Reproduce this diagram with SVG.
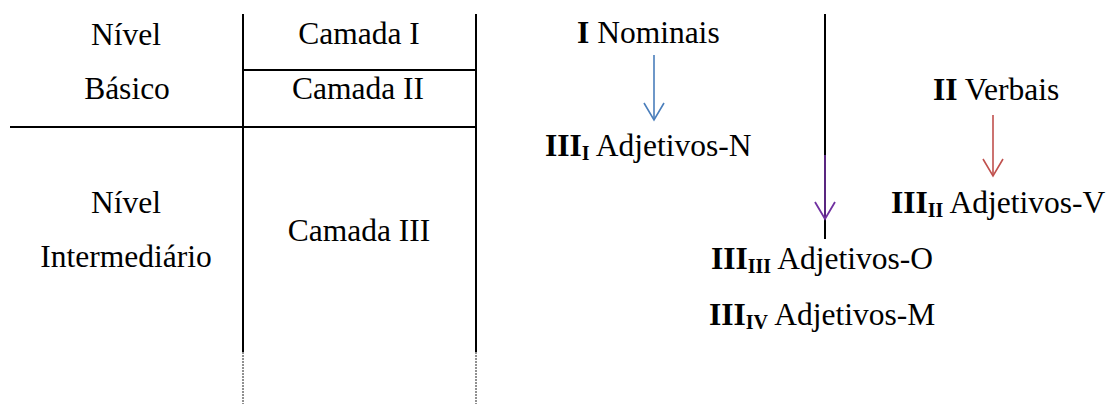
<svg xmlns="http://www.w3.org/2000/svg" width="1108" height="404" viewBox="0 0 1108 404">
<style>
text{font-family:"Liberation Serif","Times New Roman",serif;font-size:31.5px;fill:#000}
.c{text-anchor:middle}
.b{font-weight:bold}
.sub{font-weight:bold;font-size:20px}
.rule{stroke:#000;stroke-width:2;fill:none}
.dash{stroke:#222;stroke-width:1;stroke-dasharray:2 1;fill:none}
.arr{fill:none;stroke-width:1.6}
</style>
<defs>
<marker id="hb" markerUnits="userSpaceOnUse" markerWidth="22" markerHeight="24" refX="19" refY="11" orient="auto" viewBox="0 0 22 22"><path d="M2,1 L19,11 L2,21" fill="none" stroke="#4a7ebb" stroke-width="1.6"/></marker>
<marker id="hp" markerUnits="userSpaceOnUse" markerWidth="22" markerHeight="24" refX="19" refY="11" orient="auto" viewBox="0 0 22 22"><path d="M2,1 L19,11 L2,21" fill="none" stroke="#7030a0" stroke-width="1.8"/></marker>
<marker id="hr" markerUnits="userSpaceOnUse" markerWidth="22" markerHeight="24" refX="19" refY="11" orient="auto" viewBox="0 0 22 22"><path d="M2,1 L19,11 L2,21" fill="none" stroke="#c0504d" stroke-width="1.6"/></marker>
</defs>
<rect width="1108" height="404" fill="#fff"/>
<g id="table">
<line class="rule" x1="243" y1="14" x2="243" y2="352"/>
<line class="rule" x1="476" y1="14" x2="476" y2="352"/>
<line class="dash" x1="243" y1="352" x2="243" y2="404"/>
<line class="dash" x1="476" y1="352" x2="476" y2="404"/>
<line class="rule" x1="243" y1="70" x2="476" y2="70"/>
<line class="rule" x1="10" y1="127" x2="476" y2="127"/>
</g>
<g id="nivel-basico">
<text class="c" x="126" y="45">Nível</text>
<text class="c" x="127" y="99">Básico</text>
</g>
<g id="nivel-intermediario">
<text class="c" x="126" y="213">Nível</text>
<text class="c" x="126" y="267">Intermediário</text>
</g>
<g id="camada-1"><text class="c" x="359" y="44">Camada I</text></g>
<g id="camada-2"><text class="c" x="358" y="99">Camada II</text></g>
<g id="camada-3"><text class="c" x="359" y="241">Camada III</text></g>
<g id="divider"><line class="rule" x1="825" y1="14" x2="825" y2="239"/></g>
<g id="nominais"><text x="577" y="43"><tspan class="b">I</tspan> Nominais</text></g>
<g id="adj-n"><text x="545" y="156"><tspan class="b">III</tspan><tspan class="sub" dy="4">I</tspan><tspan dy="-4"> Adjetivos-N</tspan></text></g>
<g id="verbais"><text x="933" y="100"><tspan class="b">II</tspan> Verbais</text></g>
<g id="adj-v"><text x="891" y="213"><tspan class="b">III</tspan><tspan class="sub" dy="4">II</tspan><tspan dy="-4"> Adjetivos-V</tspan></text></g>
<g id="adj-o"><text x="711" y="269"><tspan class="b">III</tspan><tspan class="sub" dy="4">III</tspan><tspan dy="-4"> Adjetivos-O</tspan></text></g>
<g id="adj-m"><text x="709" y="325"><tspan class="b">III</tspan><tspan class="sub" dy="4">IV</tspan><tspan dy="-4"> Adjetivos-M</tspan></text></g>
<g id="connectors">
<line class="arr" stroke="#4a7ebb" x1="654" y1="55" x2="654" y2="120" marker-end="url(#hb)"/>
<line class="arr" stroke="#7030a0" stroke-width="2.2" x1="825" y1="155" x2="825" y2="219" marker-end="url(#hp)"/>
<line class="arr" stroke="#c0504d" x1="993" y1="115" x2="993" y2="176" marker-end="url(#hr)"/>
</g>
</svg>
